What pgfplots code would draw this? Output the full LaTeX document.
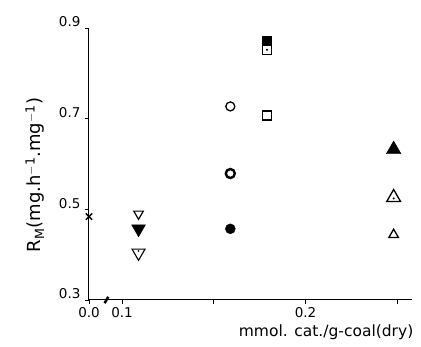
\documentclass[border=0pt]{standalone}
\usepackage{pgfplots}
\pgfplotsset{compat=1.18}
\usepackage{fontspec}
\setmainfont{DejaVu Sans}
\usetikzlibrary{plotmarks}
\begin{document}
\begin{tikzpicture}
\useasboundingbox (-89pt,-47pt) rectangle (332pt,300pt);
\begin{axis}[
  at={(0,0)}, anchor=south west,
  scale only axis,
  width=323pt, height=272pt,
  xmin=0.082, xmax=0.258,
  ymin=0.3, ymax=0.9,
  axis x line=bottom, axis y line=left,
  axis line style={-, line width=1pt},
  xtick={0.082,0.1,0.15,0.2,0.25},
  xticklabels={0.0,0.1,,0.2,},
  ytick={0.3,0.5,0.7,0.9},
  yticklabels={0.3,0.5,0.7,0.9},
  tick align=outside,
  major tick length=4pt,
  tick style={line width=0.8pt, black},
  /pgf/number format/assume math mode=true,
  ticklabel style={font=\fontsize{13.5}{13.5}\selectfont},
  yticklabel style={anchor=east, yshift=6pt, xshift=-1pt},
  xticklabel style={anchor=north, yshift=0pt},
  xlabel={mmol. cat./g-coal(dry)},
  xlabel style={at={(rel axis cs:1.015,0)}, anchor=north east, yshift=-21pt, font=\fontsize{15.5}{15.5}\selectfont},
  clip=false,
]
% cross at 0.0
\addplot[only marks, mark=x, mark size=4.5pt, line width=1.3pt] coordinates {(0.082,0.484)};
% down triangles
\addplot[only marks, mark=triangle, mark options={rotate=180, line width=1.2pt}, mark size=5.5pt] coordinates {(0.109,0.490)};
\addplot[only marks, mark=triangle*, mark options={rotate=180, fill=black}, mark size=8pt] coordinates {(0.109,0.457)};
\addplot[only marks, mark=triangle, mark options={rotate=180, line width=1.1pt}, mark size=7.5pt] coordinates {(0.109,0.404)};
\addplot[only marks, mark=*, mark size=0.6pt] coordinates {(0.109,0.408)};
% circles
\addplot[only marks, mark=o, mark size=4.5pt, mark options={line width=1.3pt}] coordinates {(0.159,0.727)};
\addplot[only marks, mark=o, mark size=4.5pt, mark options={line width=2.4pt}] coordinates {(0.159,0.579)};
\addplot[only marks, mark=*, mark size=5pt] coordinates {(0.159,0.457)};
% squares
\addplot[only marks, mark=square*, mark size=4.5pt] coordinates {(0.179,0.872)};
\addplot[only marks, mark=square, mark size=4.5pt, mark options={line width=1.5pt}] coordinates {(0.179,0.852)};
\addplot[only marks, mark=*, mark size=0.8pt] coordinates {(0.179,0.852)};
\addplot[only marks, mark=square, mark size=4.5pt, mark options={line width=1.6pt}] coordinates {(0.179,0.707)};
% triangles up
\addplot[only marks, mark=triangle*, mark size=8.5pt, mark options={fill=black}] coordinates {(0.248,0.632)};
\addplot[only marks, mark=triangle, mark size=8pt, mark options={line width=1.3pt}] coordinates {(0.248,0.526)};
\addplot[only marks, mark=*, mark size=0.8pt] coordinates {(0.248,0.524)};
\addplot[only marks, mark=triangle, mark size=5.5pt, mark options={line width=1.3pt}] coordinates {(0.248,0.444)};
% axis break
\draw[line width=2.5pt] (axis cs:0.0905,0.293) -- (axis cs:0.0925,0.307);
\end{axis}
\node[rotate=90, anchor=center, inner sep=0pt, font=\fontsize{18}{18}\selectfont] at (-54pt,125pt) {R$_{\mathrm{M}}$(mg.h$^{\mathrm{-1}}$.mg$^{\mathrm{-1}}$)};
\end{tikzpicture}
\end{document}
